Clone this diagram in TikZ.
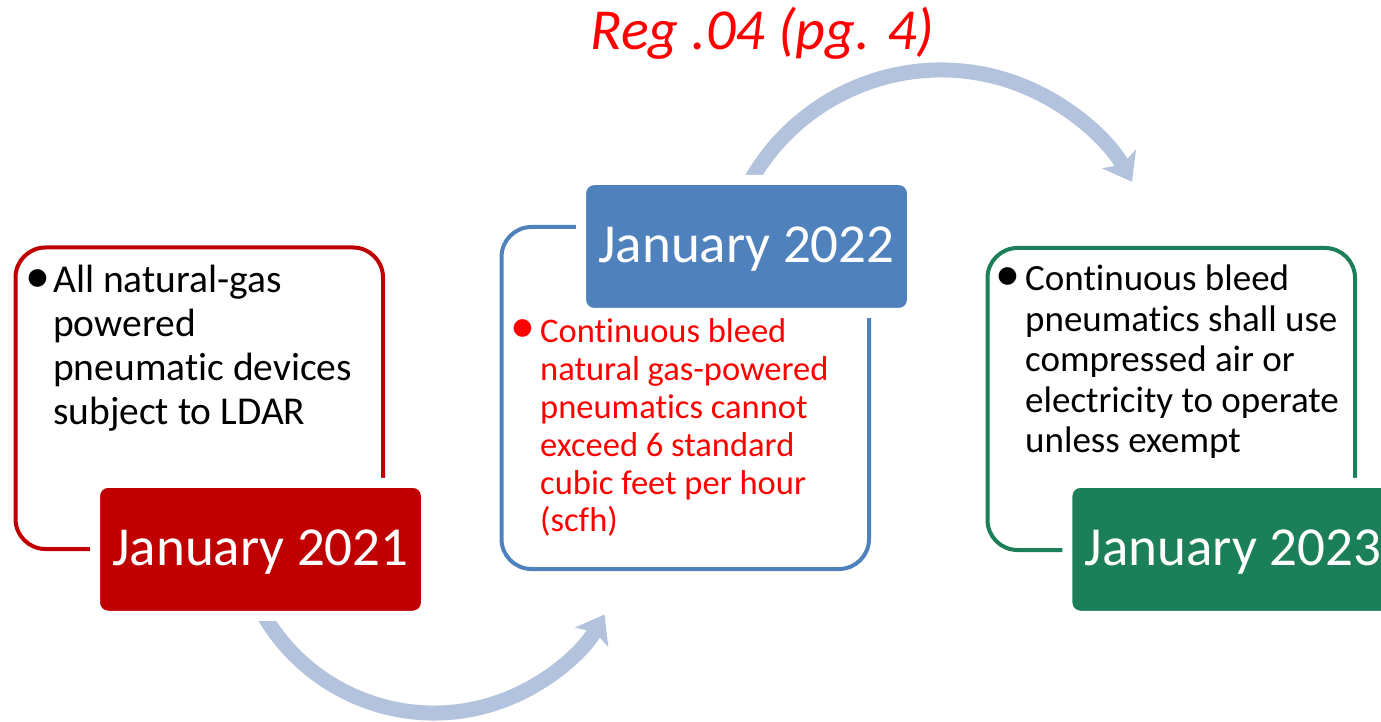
\documentclass[tikz,border=0pt]{standalone}
\usepackage{fontspec}
\setmainfont{Carlito}[Ligatures=NoCommon]
\usetikzlibrary{arrows.meta, positioning}

\definecolor{regred}{RGB}{192,0,0}
\definecolor{regblue}{RGB}{79,129,189}
\definecolor{reggreen}{RGB}{27,127,89}
\definecolor{cycleblue}{RGB}{179,195,221}
\definecolor{notered}{RGB}{255,0,0}

% bullet centred at #1 from the left edge of the text node
\newcommand{\bigdot}[1]{\hspace*{#1}\makebox[0pt]{\fontsize{50}{40}\selectfont\textbullet}}

\begin{document}
\begin{tikzpicture}[x=1pt, y=1pt, >=Stealth]
    \tikzstyle{frame} = [draw, line width=4pt, rounded corners=30pt, minimum width=367.5pt, inner sep=0pt]
    \tikzstyle{datebox} = [draw=white, line width=10pt, rounded corners=13pt, minimum width=331pt, minimum height=133pt, text height=32pt, text depth=0pt, text=white, font=\fontsize{55}{66}\selectfont]
    \tikzstyle{bullets} = [inner sep=0pt, anchor=base west]
    \tikzstyle{turn} = [draw=cycleblue, line width=15pt, -{Stealth[length=26pt, width=38pt, inset=6pt]}]

    \useasboundingbox (0,0) rectangle (1381,721);

    % outlined boxes
    \node[frame, draw=regred, minimum height=301.5pt] (frame21) at (199.25,322.75) {};
    \node[frame, draw=regblue, minimum height=342pt] (frame22) at (685.25,323) {};
    \node[frame, draw=reggreen, minimum height=302pt] (frame23) at (1171.25,322) {};

    % curved arrows
    \coordinate (lowpivot) at (434,205);
    \coordinate (highpivot) at (941,432);
    \draw[turn] ([shift={(-158:197)}]lowpivot) arc[start angle=-158, end angle=-30, radius=197];
    \draw[turn] ([shift={(156:219)}]highpivot) arc[start angle=156, end angle=29.3, radius=219];

    % dates
    \node[datebox, fill=regred] (date21) at (260.5,171.7) {January 2021};
    \node[datebox, fill=regblue] (date22) at (746.5,474.5) {January 2022};
    \node[datebox, fill=reggreen] (date23) at (1232.8,171.7) {January 2023};

    % bullet texts
    \node[bullets, text=black, font=\fontsize{39.5}{43.7}\selectfont] (note21) at (30,428) {%
        \begin{tabular}[t]{@{}p{23pt}@{}l@{}}
            \bigdot{7.5pt} & All natural-gas\\
            & powered\\
            & pneumatic devices\\
            & subject to LDAR
        \end{tabular}};
    \node[bullets, text=notered, font=\fontsize{34.5}{37.8}\selectfont] (note22) at (516,378) {%
        \begin{tabular}[t]{@{}p{24pt}@{}l@{}}
            \bigdot{6.5pt} & Continuous bleed\\
            & natural gas-powered\\
            & pneumatics cannot\\
            & exceed 6 standard\\
            & cubic feet per hour\\
            & (scfh)
        \end{tabular}};
    \node[bullets, text=black, font=\fontsize{37}{40.5}\selectfont] (note23) at (1001,430) {%
        \begin{tabular}[t]{@{}p{24pt}@{}l@{}}
            \bigdot{7pt} & Continuous bleed\\
            & pneumatics shall use\\
            & compressed air or\\
            & electricity to operate\\
            & unless exempt
        \end{tabular}};

    % reference
    \node[anchor=base, text=notered, font=\fontsize{58}{70}\selectfont\itshape] (regref) at (762.5,671) {Reg .04 (pg. 4)};
\end{tikzpicture}
\end{document}
